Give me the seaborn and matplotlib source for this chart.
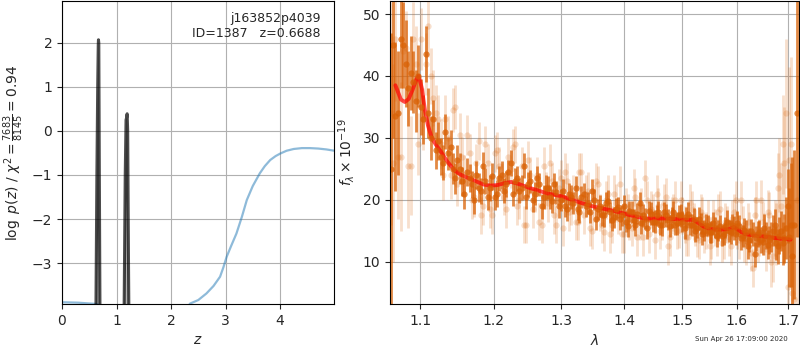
import numpy as np
import pandas as pd
import matplotlib
matplotlib.use("Agg")
import matplotlib.pyplot as plt
import seaborn as sns
from matplotlib.ticker import FixedLocator, FormatStrFormatter, NullLocator

# ---------------- data: left panel (redshift fit) ----------------
chi2_z = [0.0, 0.3, 0.64, 1.0, 1.5, 2.0, 2.35, 2.5, 2.65, 2.78, 2.9, 2.96, 3.02, 3.1, 3.2,
          3.3, 3.39, 3.5, 3.63, 3.72, 3.82, 3.92, 4.01, 4.12, 4.25, 4.4, 4.55, 4.7, 4.85, 5.0]
chi2_logp = [-3.89, -3.90, -3.93, -4.2, -4.6, -4.5, -3.92, -3.84, -3.69, -3.52, -3.31, -3.1,
             -2.86, -2.62, -2.33, -1.95, -1.57, -1.25, -0.96, -0.80, -0.66, -0.57, -0.51,
             -0.45, -0.41, -0.39, -0.39, -0.40, -0.42, -0.45]

pz1_z = [0.58, 0.62, 0.64, 0.655, 0.665, 0.669, 0.675, 0.685, 0.70, 0.74]
pz1_logp = [-8.0, -4.5, -1.0, 1.0, 1.95, 2.07, 2.0, -1.0, -5.0, -8.0]
pz2_z = [1.10, 1.14, 1.16, 1.175, 1.185, 1.195, 1.205, 1.22, 1.25]
pz2_logp = [-8.0, -4.0, -1.0, 0.25, 0.30, 0.39, 0.0, -3.0, -8.0]

chi2_num, chi2_den, chi2_red = 7683, 8145, 0.94
obj_name = "j163852p4039"
obj_id = 1387
z_best = 0.6688

# ---------------- data: right panel (spectrum) ----------------
wave_a = [1.062, 1.068, 1.075, 1.081, 1.088, 1.094, 1.101, 1.107, 1.114, 1.120, 1.127, 1.133,
          1.140, 1.146, 1.153, 1.159, 1.166, 1.172, 1.179, 1.185, 1.192, 1.198, 1.205, 1.211,
          1.218, 1.224, 1.231, 1.237, 1.244, 1.250, 1.257, 1.263, 1.270, 1.276, 1.283, 1.289,
          1.296, 1.302, 1.309, 1.315, 1.322, 1.328, 1.335, 1.341, 1.348, 1.354, 1.361, 1.367,
          1.374, 1.380, 1.387, 1.393, 1.400, 1.406, 1.413, 1.419, 1.426, 1.432, 1.439, 1.445,
          1.452, 1.458, 1.465, 1.471, 1.478, 1.484, 1.491, 1.497, 1.504, 1.510, 1.517, 1.523,
          1.530, 1.536, 1.543, 1.549, 1.556, 1.562, 1.569, 1.575, 1.582, 1.588, 1.595, 1.601,
          1.608, 1.614, 1.621, 1.627, 1.634, 1.640, 1.647, 1.653, 1.660, 1.666, 1.673, 1.679,
          1.686, 1.692, 1.699, 1.705, 1.712, 1.718]
wave_b = [1.065, 1.071, 1.078, 1.084, 1.091, 1.097, 1.104, 1.110, 1.117, 1.123, 1.130, 1.136,
          1.143, 1.149, 1.156, 1.162, 1.169, 1.175, 1.182, 1.188, 1.195, 1.201, 1.208, 1.214,
          1.221, 1.227, 1.234, 1.240, 1.247, 1.253, 1.260, 1.266, 1.273, 1.279, 1.286, 1.292,
          1.299, 1.305, 1.312, 1.318, 1.325, 1.331, 1.338, 1.344, 1.351, 1.357, 1.364, 1.370,
          1.377, 1.383, 1.390, 1.396, 1.403, 1.409, 1.416, 1.422, 1.429, 1.435, 1.442, 1.448,
          1.455, 1.461, 1.468, 1.474, 1.481, 1.487, 1.494, 1.500, 1.507, 1.513, 1.520, 1.526,
          1.533, 1.539, 1.546, 1.552, 1.559, 1.565, 1.572, 1.578, 1.585, 1.591, 1.598, 1.604,
          1.611, 1.617, 1.624, 1.630, 1.637, 1.643, 1.650, 1.656, 1.663, 1.669, 1.676, 1.682,
          1.689, 1.695, 1.702, 1.708]

# dark (high S/N) spectrum, two sets
flux_a = [25, 33.5, 46, 42, 40.5, 36, 35, 43.5, 30, 28, 27, 31,
          28.5, 23.5, 25, 21, 23.5, 20, 22, 25.5, 20.5, 23.8, 21, 24,
          22.5, 26, 23, 21.5, 25.5, 22.5, 20, 23.5, 19, 22, 20.5, 22.5,
          19, 21.5, 18.5, 20.5, 22, 18, 21, 19.5, 21.5, 17, 19, 17.5,
          19.8, 16.8, 18.5, 17.0, 19, 15.8, 18, 16, 19.5, 17.5, 15.5, 17.8,
          16.5, 18, 16, 17.5, 15.8, 18, 16.2, 17.5, 15.5, 17.8, 16, 15,
          17, 14.5, 16, 14.8, 16.2, 14.2, 15.8, 14.5, 16.5, 14.8, 15.5, 16.3,
          13.8, 15.2, 12.5, 15, 11.2, 14.5, 13.5, 15.5, 12.8, 14, 16, 12.5,
          15, 13.8, 19, 16, 16, 34]
err_a = [22, 12, 8, 7, 6, 5, 4.5, 4.5, 3.5, 3, 3, 2.8,
         2.8, 2.5, 2.5, 2.5, 2.3, 2.3, 2.3, 2.3, 2.2, 2.2, 2.2, 2.2,
         2.1, 2.1, 2.1, 2.0, 2.0, 2.0, 2.0, 2.0, 2.0, 2.0, 1.9, 1.9,
         1.9, 1.9, 1.9, 1.9, 1.9, 1.8, 1.8, 1.8, 1.8, 1.8, 1.8, 1.8,
         1.8, 1.8, 1.8, 1.8, 1.8, 1.8, 1.8, 1.8, 1.8, 1.8, 1.8, 1.8,
         1.8, 1.8, 1.8, 1.8, 1.8, 1.8, 1.8, 1.8, 1.8, 1.8, 1.8, 1.8,
         1.8, 1.8, 1.8, 1.8, 1.8, 1.8, 1.8, 1.8, 1.8, 1.9, 1.9, 1.9,
         1.9, 1.9, 2.0, 2.0, 2.0, 2.1, 2.1, 2.2, 2.3, 2.4, 2.6, 2.8,
         3.2, 4.0, 6, 10, 12, 20]
flux_c = [45, 34, 45, 38, 39, 40, 33, 34, 33, 29.5, 26, 27.5,
          25, 26.5, 23, 24.5, 22.5, 24, 21.5, 23, 22, 20.5, 23.5, 21.5,
          24.5, 21, 23.5, 22, 20.5, 23, 21, 22.5, 20.5, 22, 19.8, 21.2,
          20, 19, 21, 19.5, 18.5, 20.5, 19, 18, 20, 18.5, 17.5, 19.5,
          18, 17.2, 18.8, 17.5, 16.5, 18.2, 16.8, 17.8, 16.2, 17, 18.2, 16.5,
          17.5, 16, 18, 16.8, 17.2, 16, 17.5, 16.5, 17.2, 16, 17, 15.5,
          16.2, 15, 15.8, 14.8, 15.5, 15, 14.2, 15.6, 15, 16, 14.5, 15.8,
          14.2, 14.8, 13.5, 14.5, 13.8, 14.8, 13.2, 14.2, 13.5, 15, 13, 14.2,
          13, 15.5, 14, 11]
err_c = [15, 10, 7, 6, 5, 5, 4, 4, 3.2, 3, 2.8, 2.6,
         2.5, 2.4, 2.3, 2.3, 2.2, 2.2, 2.1, 2.1, 2.1, 2.1, 2.0, 2.0,
         2.0, 2.0, 2.0, 2.0, 2.0, 1.9, 1.9, 1.9, 1.9, 1.9, 1.9, 1.8,
         1.8, 1.8, 1.8, 1.8, 1.8, 1.8, 1.7, 1.7, 1.7, 1.7, 1.7, 1.7,
         1.7, 1.7, 1.7, 1.7, 1.7, 1.7, 1.7, 1.7, 1.7, 1.7, 1.7, 1.7,
         1.7, 1.7, 1.7, 1.7, 1.7, 1.7, 1.7, 1.7, 1.7, 1.7, 1.7, 1.7,
         1.7, 1.7, 1.7, 1.7, 1.7, 1.7, 1.7, 1.7, 1.8, 1.8, 1.8, 1.8,
         1.8, 1.9, 1.9, 1.9, 2.0, 2.0, 2.1, 2.2, 2.3, 2.5, 2.7, 3.0,
         3.5, 5, 8, 16]

# light (low S/N) spectrum, two sets
flux_b = [26, 27, 44, 25.5, 46, 29, 33, 48, 36.5, 33, 24, 30,
          34.5, 22.5, 27, 30.5, 20, 26, 17.5, 29, 18.5, 27.5, 25.5, 20.5,
          27, 28.5, 19, 25.5, 16, 24, 21, 16.5, 25.5, 19.5, 23, 16,
          23.5, 24.5, 18, 21, 16.5, 24.5, 21, 15.5, 19.5, 22.5, 16, 20,
          14.5, 21, 17.5, 14.5, 19, 16.5, 22, 14.0, 19, 23.5, 14.5, 18,
          21, 15, 19.5, 12.5, 17.5, 20, 15.2, 17.5, 14, 19.5, 16.5, 13.8,
          18, 14.5, 17, 13.5, 15.5, 18, 13, 16.5, 14.0, 17, 20, 13.5,
          16, 12.5, 15, 9, 20, 14, 16.5, 12, 17.5, 11, 14.5, 24,
          29, 34, 26.5, 5]
err_b = [16, 10, 8, 10, 6, 5, 5, 5, 4.5, 4, 4, 3.5,
         3.5, 3.5, 3.2, 3.2, 3, 3, 3, 3, 3, 3, 3, 3,
         3, 3, 3, 3, 3, 3, 3, 3, 3, 3, 3, 3,
         3, 3, 3, 3, 3, 3, 3, 3, 3, 3, 3, 3,
         3, 3, 3, 3, 3, 3, 3, 3, 3, 3, 3, 3,
         3, 3, 3, 3, 3, 3, 3, 3, 3, 3, 3, 3,
         3, 3, 3, 3, 3, 3, 3, 3, 3, 3, 3, 3,
         3, 3, 3, 3, 3, 3, 3.2, 3.5, 3.8, 4.2, 5, 6,
         8, 12, 15, 18]
flux_d = [34, 46, 27, 44.5, 25.5, 42, 46, 42, 40, 34, 29, 33,
          24, 35, 30.5, 24, 27.5, 20.5, 29.5, 19, 26, 17.5, 28, 23,
          18.5, 25, 29, 20, 16, 26.5, 18.5, 24, 16, 21.5, 26, 17.5,
          22, 15.5, 23, 19, 16.5, 24.5, 17.5, 21.5, 15, 23, 18, 14.8,
          21, 16, 19.5, 22.5, 14.5, 18, 15.5, 20.5, 16.5, 14, 20, 18.5,
          13.5, 19, 16.5, 20.5, 14, 18, 15, 20, 16, 14, 18.5, 15.5,
          13.5, 17.5, 15, 12.5, 17, 14, 18.5, 13.5, 16, 12.5, 18, 15,
          20, 13, 16.5, 11.5, 17.5, 13, 20, 14.5, 18, 10, 15.5, 22,
          19, 26, 6, 29, 4, 20]
err_d = [18, 10, 12, 6, 8, 6, 5, 5, 4.5, 4.5, 4, 4,
         3.8, 3.5, 3.5, 3.3, 3.2, 3.2, 3, 3, 3, 3, 3, 3,
         3, 3, 3, 3, 3, 3, 3, 3, 3, 3, 3, 3,
         3, 3, 3, 3, 3, 3, 3, 3, 3, 3, 3, 3,
         3, 3, 3, 3, 3, 3, 3, 3, 3, 3, 3, 3,
         3, 3, 3, 3, 3, 3, 3, 3, 3, 3, 3, 3,
         3, 3, 3, 3, 3, 3, 3, 3, 3, 3, 3, 3,
         3, 3, 3, 3, 3, 3, 3.2, 3.4, 3.6, 4, 4.5, 5.5,
         7, 9, 12, 14, 16, 20]

model_wave = [1.068, 1.075, 1.080, 1.085, 1.090, 1.095, 1.098, 1.102, 1.106, 1.110, 1.115,
              1.120, 1.127, 1.135, 1.145, 1.155, 1.165, 1.175, 1.185, 1.195, 1.205, 1.215,
              1.225, 1.235, 1.250, 1.265, 1.280, 1.300, 1.320, 1.340, 1.360, 1.380, 1.400,
              1.420, 1.435, 1.450, 1.470, 1.490, 1.510, 1.520, 1.530, 1.540, 1.550, 1.570,
              1.585, 1.595, 1.605, 1.615, 1.630, 1.650, 1.670, 1.690, 1.705]
model_flux = [38.5, 36.2, 35.8, 36.3, 37.8, 39.5, 40.0, 38.0, 34.5, 32.0, 30.0,
              29.0, 27.8, 26.3, 24.8, 24.0, 23.5, 23.0, 22.5, 22.3, 22.4, 22.7,
              22.9, 22.6, 22.0, 21.5, 21.0, 20.6, 19.9, 19.2, 18.7, 18.3, 17.8,
              17.3, 17.0, 17.0, 17.0, 16.9, 16.8, 16.8, 16.2, 15.6, 15.3, 15.2,
              15.3, 15.6, 15.0, 14.5, 14.3, 14.1, 13.9, 13.7, 13.6]

x_ticks = [1.1, 1.2, 1.3, 1.4, 1.5, 1.6, 1.7]
stamp = "Sun Apr 26 17:09:00 2020"

# ---------------- figure ----------------
sns.set_style("white")
plt.rcParams["font.family"] = ["DejaVu Sans"]
plt.rcParams["axes.edgecolor"] = "black"
plt.rcParams["xtick.bottom"] = True
plt.rcParams["ytick.left"] = True

fig = plt.figure(figsize=(8, 3.5), dpi=100)
ax1 = fig.add_axes([0.0775, 0.1314, 0.34, 0.8657])
ax2 = fig.add_axes([0.4875, 0.1314, 0.511, 0.8657])

# left panel
df_chi = pd.DataFrame({"z": chi2_z, "lp": chi2_logp})
sns.lineplot(data=df_chi, x="z", y="lp", ax=ax1, color="tab:blue", alpha=0.5, lw=1.6,
             sort=False)
for zz, lp in [(pz1_z, pz1_logp), (pz2_z, pz2_logp)]:
    d = pd.DataFrame({"z": zz, "lp": lp})
    ax1.fill_between(d["z"], d["lp"], -10, color="k", alpha=0.3, lw=0)
    sns.lineplot(data=d, x="z", y="lp", ax=ax1, color="k", alpha=0.7, lw=2.2, sort=False)

ax1.set_xlim(0, 4.99)
ax1.set_ylim(-3.93, 2.95)
ax1.set_xticks([0, 1, 2, 3, 4])
ax1.set_yticks([-3, -2, -1, 0, 1, 2])
ax1.grid(True, color="#b0b0b0", lw=0.8)
ax1.set_xlabel(r"$z$", fontsize=10)
ax1.set_ylabel(r"$\log\ p(z)$ / $\chi^2=\frac{%d}{%d}=%.2f$" % (chi2_num, chi2_den, chi2_red),
               fontsize=10)
ax1.text(0.95, 0.965, "%s\nID=%d   z=%.4f" % (obj_name, obj_id, z_best), ha="right",
         va="top", transform=ax1.transAxes, fontsize=9)
ax1.tick_params(labelsize=10, length=3.5)

# right panel
col = (0.85, 0.38, 0.02)
for w, f, e in [(wave_b, flux_b, err_b), (wave_a, flux_d, err_d)]:
    ax2.errorbar(w, f, yerr=e, fmt="o", color=col, alpha=0.2, ms=4.5,
                 elinewidth=2.0, mew=0, capsize=0)
for w, f, e in [(wave_a, flux_a, err_a), (wave_b, flux_c, err_c)]:
    ax2.errorbar(w, f, yerr=e, fmt="o", color=col, alpha=0.75, ms=4.5,
                 elinewidth=2.0, mew=0, capsize=0)
df_mod = pd.DataFrame({"w": model_wave, "f": model_flux})
sns.lineplot(data=df_mod, x="w", y="f", ax=ax2, color="red", alpha=0.7, lw=2.8, sort=False)

ax2.set_xscale("log")
ax2.set_xlim(1.0612, 1.7217)
ax2.set_ylim(3.2, 52.1)
ax2.xaxis.set_major_locator(FixedLocator(x_ticks))
ax2.xaxis.set_major_formatter(FormatStrFormatter("%.1f"))
ax2.xaxis.set_minor_locator(NullLocator())
ax2.set_yticks([10, 20, 30, 40, 50])
ax2.grid(True, color="#b0b0b0", lw=0.8)
ax2.set_xlabel(r"$\lambda$", fontsize=10)
ax2.set_ylabel(r"$f_\lambda\times10^{-19}$", fontsize=10)
ax2.tick_params(labelsize=10, length=3.5)

fig.text(0.985, 0.022, stamp, ha="right", va="bottom", fontsize=5)

fig.savefig("out.png", dpi=100)
